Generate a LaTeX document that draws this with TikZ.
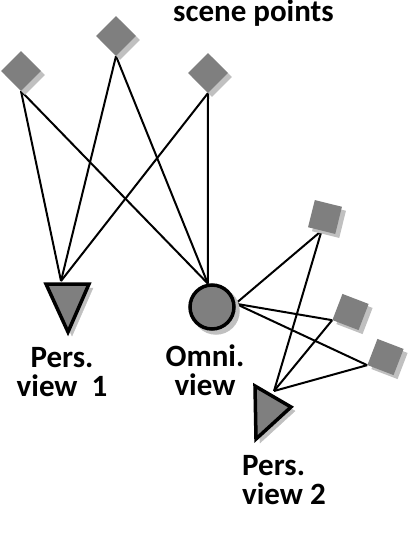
\documentclass[tikz,border=0pt]{standalone}
\usepackage{fontspec}
\setmainfont{Carlito}
\pgfdeclarelayer{bg}
\pgfsetlayers{bg,main}
\definecolor{shapegray}{RGB}{127,127,127}
\definecolor{shadowgray}{RGB}{192,192,192}
\tikzset{
  flatshadow/.style={preaction={fill=shadowgray, transform canvas={shift={(4,4)}}}},
  bordershadow/.style={preaction={fill=shadowgray, draw=shadowgray, transform canvas={shift={(4,4)}}}},
  spt/.style={rectangle, minimum size=28pt, inner sep=0pt, fill=shapegray, flatshadow},
  omnicam/.style={circle, minimum size=44pt, inner sep=0pt, draw=black, line width=3.5pt, fill=shapegray, bordershadow},
  perscam/.style={draw=black, line width=3.5pt, fill=shapegray, bordershadow},
  conn/.style={draw=black, line width=2pt},
  lbl/.style={font=\fontsize{31pt}{29pt}\selectfont\bfseries, inner sep=0pt, align=center}
}
\begin{document}
\begin{tikzpicture}[x=1pt,y=-1pt]
\useasboundingbox (0,0) rectangle (408,540);

% scene points
\node[spt, rotate=45] (sp1) at (21,71) {};
\node[spt, rotate=45] (sp2) at (116,36) {};
\node[spt, rotate=45] (sp3) at (208,73) {};
\node[spt, rotate=-14] (sp4) at (325,217) {};
\node[spt, rotate=-21] (sp5) at (350.5,312) {};
\node[spt, rotate=-21] (sp6) at (385.5,357) {};

% cameras
\node[omnicam] (omni) at (212,307) {};
\draw[perscam] (46,284) -- (89,284) -- (68,332) -- cycle;
\coordinate (pv1) at (61,281);
\draw[perscam] (255,386) -- (291,407) -- (256,439) -- cycle;
\coordinate (pv2) at (274,391);

% connectors
\begin{pgfonlayer}{bg}
\draw[conn] (sp1.south west) -- (pv1);
\draw[conn] (sp2.south west) -- (pv1);
\draw[conn] (sp3.south west) -- (pv1);
\draw[conn] (sp1.south west) -- (omni.100);
\draw[conn] (sp2.south west) -- (omni.100);
\draw[conn] (sp3.south west) -- (omni.100);
\draw[conn] (omni.8) -- (sp4.south);
\draw[conn] (omni.8) -- (sp5.south west);
\draw[conn] (omni.8) -- (sp6.south west);
\draw[conn] (sp4.south) -- (pv2);
\draw[conn] (sp5.south west) -- (pv2);
\draw[conn] (sp6.south west) -- (pv2);
\end{pgfonlayer}

% labels
\node[lbl, anchor=base] (title) at (253.5,22) {scene points};
\node[lbl, anchor=north] (lpv1) at (62,347) {Pers.\\view~~1};
\node[lbl, anchor=north] (lomni) at (205,345) {Omni.\\view};
\node[lbl, anchor=north west, align=left] (lpv2) at (242,455) {Pers.\\view 2};
\end{tikzpicture}
\end{document}
